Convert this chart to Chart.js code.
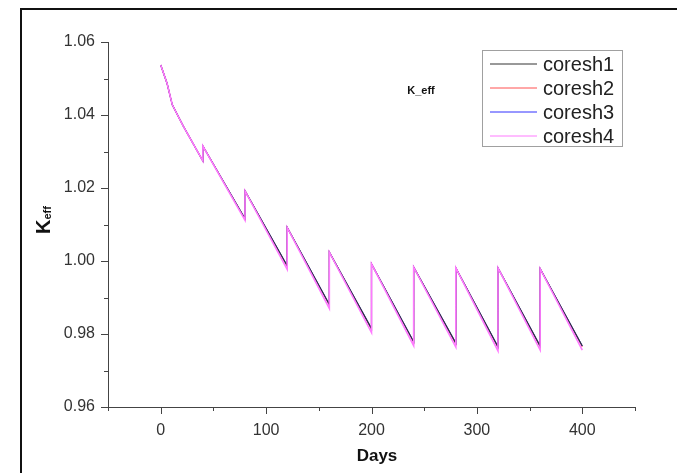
<!DOCTYPE html>
<html>
<head>
<meta charset="utf-8">
<script src="https://cdn.jsdelivr.net/npm/chart.js@4.4.0/dist/chart.umd.min.js"></script>
<style>
html, body { margin: 0; padding: 0; background: #fff; }
#wrap { position: relative; width: 677px; height: 473px; }
#frame { position: absolute; left: 20px; top: 8px; right: 0; bottom: 0;
  border-top: 2px solid #111; border-left: 2px solid #111; pointer-events: none; }
</style>
</head>
<body>
<div id="wrap">
  <canvas id="myChart" width="677" height="473"></canvas>
  <div id="frame"></div>
</div>
<script>
// burnup days (repeated day = reshuffle jump)
var days = [0, 6, 11, 21.5, 40, 40, 80, 80, 120, 120, 160, 160, 200, 200, 240, 240, 280, 280, 320, 320, 360, 360, 400];

var coresh1 = [1.0537, 1.0487, 1.0428, 1.0369, 1.0274, 1.0315, 1.0116, 1.0192, 0.9987, 1.0092, 0.9881, 1.0024,
               0.9815, 0.9992, 0.9779, 0.9983, 0.9775, 0.9981, 0.9765, 0.9981, 0.9767, 0.9979, 0.9767];
var coresh2 = [1.0537, 1.0487, 1.0428, 1.0369, 1.0274, 1.0315, 1.0115, 1.0192, 0.9985, 1.0092, 0.9879, 1.0024,
               0.9813, 0.9992, 0.9777, 0.9983, 0.9773, 0.9981, 0.9763, 0.9981, 0.9765, 0.9979, 0.9765];
var coresh3 = [1.0537, 1.0487, 1.0428, 1.0369, 1.0274, 1.0315, 1.0116, 1.0192, 0.9987, 1.0092, 0.9881, 1.0024,
               0.9815, 0.9992, 0.9779, 0.9983, 0.9775, 0.9981, 0.9765, 0.9981, 0.9767, 0.9979, 0.9767];
var coresh4 = [1.0537, 1.0487, 1.0428, 1.0369, 1.0274, 1.0315, 1.0112, 1.0192, 0.9977, 1.0092, 0.9870, 1.0024,
               0.9804, 0.9992, 0.9768, 0.9983, 0.9764, 0.9981, 0.9754, 0.9981, 0.9756, 0.9979, 0.9756];

var seriesNames = ['coresh1', 'coresh2', 'coresh3', 'coresh4'];
var seriesColors = ['#333333', '#ff5050', '#3030ff', '#ff7aff'];
var seriesData = [coresh1, coresh2, coresh3, coresh4];

var xMin = -50, xMax = 450, xStep = 50;
var yMin = 0.96, yMax = 1.06, yStep = 0.01;

function points(vals) {
    return days.map(function (d, i) { return { x: d, y: vals[i] }; });
}

var datasets = seriesNames.map(function (name, i) {
    return {
        label: name,
        data: points(seriesData[i]),
        borderColor: seriesColors[i],
        backgroundColor: seriesColors[i],
        borderWidth: i === 3 ? 1.6 : 1.1,
        pointRadius: 0,
        tension: 0,
        fill: false,
        order: i === 3 ? 0 : (i === 0 ? 1 : (i === 2 ? 2 : 3))
    };
});

// tick marks, axis titles, note and legend box
var extras = {
    id: 'extras',
    afterDraw: function (chart) {
        var c = chart.ctx;
        var xs = chart.scales.x, ys = chart.scales.y;
        c.save();
        c.strokeStyle = '#444';
        c.lineWidth = 1;
        c.beginPath();
        xs.ticks.forEach(function (t) {
            var px = Math.round(xs.getPixelForValue(t.value)) + 0.5;
            var len = (Math.round(t.value) % 100 === 0) ? 7 : 4;
            c.moveTo(px, xs.top);
            c.lineTo(px, xs.top + len);
        });
        ys.ticks.forEach(function (t) {
            var py = Math.round(ys.getPixelForValue(t.value)) + 0.5;
            var len = (Math.round(t.value * 1000) % 20 === 0) ? 7 : 4;
            c.moveTo(ys.right, py);
            c.lineTo(ys.right - len, py);
        });
        c.stroke();

        // x title
        c.fillStyle = '#111';
        c.font = 'bold 17px "Liberation Sans", Arial, sans-serif';
        c.textAlign = 'center';
        c.textBaseline = 'middle';
        c.fillText('Days', 377, 456);

        // y title K_eff
        c.save();
        c.translate(50, 234);
        c.rotate(-Math.PI / 2);
        c.textAlign = 'left';
        c.textBaseline = 'alphabetic';
        c.font = 'bold 20px "Liberation Sans", Arial, sans-serif';
        c.fillText('K', 0, 0);
        var kw = c.measureText('K').width;
        c.font = 'bold 11px "Liberation Sans", Arial, sans-serif';
        c.fillText('eff', kw, 1);
        c.restore();

        // note
        c.font = 'bold 11px "Liberation Sans", Arial, sans-serif';
        c.textAlign = 'center';
        c.textBaseline = 'middle';
        c.fillText('K_eff', 421, 91);

        // legend
        c.strokeStyle = '#a0a0a0';
        c.lineWidth = 1;
        c.strokeRect(482.5, 50.5, 140, 96);
        c.font = '20px "Liberation Sans", Arial, sans-serif';
        c.textAlign = 'left';
        chart.data.datasets.forEach(function (ds, i) {
            var y = 64 + i * 24;
            c.strokeStyle = ds.borderColor;
            c.lineWidth = 1;
            c.beginPath();
            c.moveTo(490, y);
            c.lineTo(537, y);
            c.stroke();
            c.fillStyle = '#222';
            c.fillText(ds.label, 543, y + 1);
        });
        c.restore();
    }
};

var ctx = document.getElementById('myChart').getContext('2d');
var myChart = new Chart(ctx, {
    type: 'line',
    data: { datasets: datasets },
    options: {
        responsive: false,
        animation: false,
        devicePixelRatio: 1,
        layout: { padding: { left: 0, top: 42, right: 42, bottom: 0 } },
        plugins: {
            legend: { display: false },
            tooltip: { enabled: false }
        },
        scales: {
            x: {
                type: 'linear',
                min: xMin, max: xMax,
                grid: { display: false },
                border: { display: true, color: '#444', width: 1 },
                afterFit: function (s) { s.height = 66; },
                ticks: {
                    stepSize: xStep,
                    autoSkip: false,
                    maxRotation: 0,
                    padding: 6,
                    color: '#333',
                    font: { family: '"Liberation Sans", Arial, sans-serif', size: 16 },
                    callback: function (v) {
                        return (v >= 0 && v <= 400 && Math.round(v) % 100 === 0) ? String(v) : '';
                    }
                }
            },
            y: {
                min: yMin, max: yMax,
                grid: { display: false },
                border: { display: true, color: '#444', width: 1 },
                afterFit: function (s) { s.width = 108; },
                ticks: {
                    stepSize: yStep,
                    autoSkip: false,
                    padding: 5,
                    color: '#333',
                    font: { family: '"Liberation Sans", Arial, sans-serif', size: 16 },
                    callback: function (v) {
                        return (Math.round(v * 1000) % 20 === 0) ? v.toFixed(2) : '';
                    }
                }
            }
        }
    },
    plugins: [extras]
});
</script>
</body>
</html>
